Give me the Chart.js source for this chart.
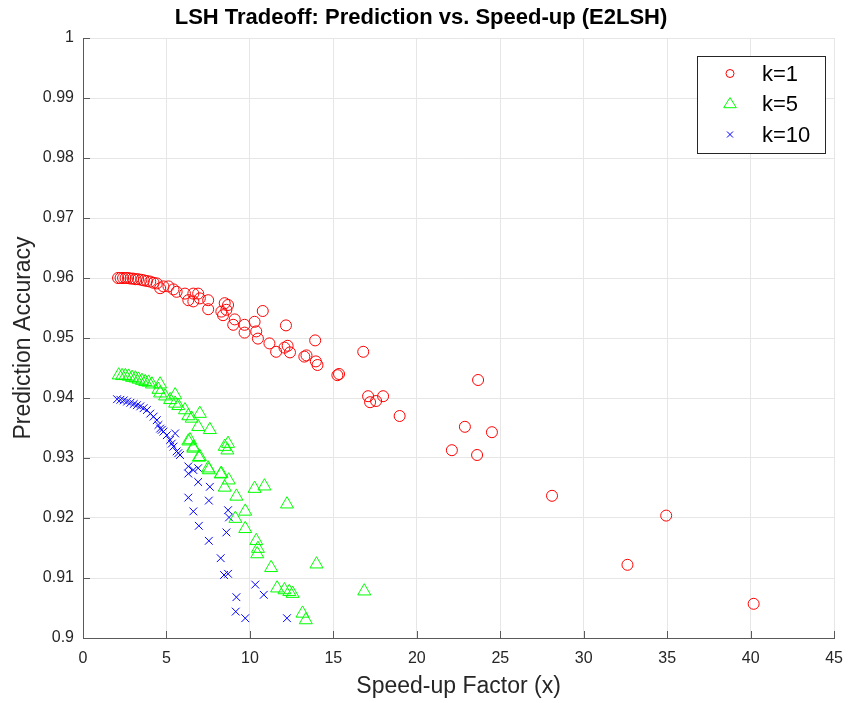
<!DOCTYPE html>
<html>
<head>
<meta charset="utf-8">
<script src="https://cdn.jsdelivr.net/npm/chart.js@4/dist/chart.umd.min.js"></script>
<style>
html,body{margin:0;padding:0;background:#fff;}
#wrap{width:854px;height:703px;}
</style>
</head>
<body>
<div id="wrap"><canvas id="c" width="854" height="703"></canvas></div>
<script>
const chartTitle = "LSH Tradeoff: Prediction vs. Speed-up (E2LSH)";
const xAxisTitle = "Speed-up Factor (x)";
const yAxisTitle = "Prediction Accuracy";
const seriesNames = ["k=1", "k=5", "k=10"];
const xTickLabels = ["0","5","10","15","20","25","30","35","40","45"];
const yTickLabels = ["0.9","0.91","0.92","0.93","0.94","0.95","0.96","0.97","0.98","0.99","1"];

// k=1 (x: speed-up, y: accuracy)
const k1X = [2.1,2.25,2.4,2.55,2.7,2.85,3.0,3.15,3.3,3.5,3.65,3.83,4.03,4.23,4.42,4.62,4.82,5.12,5.42,5.61,6.11,6.31,6.61,6.61,6.9,7.0,7.5,7.5,8.29,8.39,8.49,8.59,8.69,9.0,9.09,9.68,9.68,10.28,10.38,10.48,10.77,11.17,11.57,12.07,12.16,12.26,12.4,13.26,13.39,13.91,13.95,14.05,15.24,15.34,16.79,17.08,17.2,17.56,17.98,18.97,22.1,22.88,23.61,23.67,24.5,28.1,32.62,34.94,40.18];
const k1Y = [0.9600,0.9600,0.9600,0.9600,0.9600,0.9599,0.9599,0.9598,0.9598,0.9597,0.9596,0.9595,0.9594,0.9592,0.9591,0.9583,0.9586,0.9586,0.9581,0.9577,0.9574,0.9563,0.9561,0.9574,0.9574,0.9566,0.9563,0.9548,0.9544,0.9538,0.9558,0.9547,0.9555,0.9522,0.9531,0.9522,0.9509,0.9527,0.9511,0.9499,0.9545,0.9491,0.9477,0.9484,0.9521,0.9487,0.9476,0.9469,0.9471,0.9496,0.9461,0.9455,0.9438,0.9440,0.9477,0.9403,0.9393,0.9395,0.9403,0.9370,0.9313,0.9352,0.9305,0.9430,0.9343,0.9237,0.9122,0.9204,0.9057];

// k=5
const k5X = [2.14,2.34,2.54,2.74,2.94,3.14,3.33,3.53,3.73,3.93,4.13,4.52,4.62,4.62,4.92,5.22,5.52,5.52,5.71,6.11,6.31,6.31,6.41,6.51,6.61,6.61,6.9,6.94,7.0,7.0,7.5,7.54,7.6,8.25,8.29,8.49,8.49,8.65,8.69,8.73,9.13,9.19,9.72,9.72,10.28,10.38,10.44,10.48,10.87,11.27,11.63,12.07,12.22,12.36,12.56,13.15,13.35,13.99,16.85];
const k5Y = [0.9438,0.9437,0.9437,0.9436,0.9434,0.9433,0.9431,0.9429,0.9427,0.9426,0.9423,0.9414,0.9423,0.9408,0.9403,0.9397,0.9405,0.9391,0.9387,0.9380,0.9370,0.9328,0.9330,0.9366,0.9318,0.9316,0.9352,0.9301,0.9374,0.9302,0.9283,0.9280,0.9347,0.9273,0.9274,0.9319,0.9251,0.9313,0.9324,0.9263,0.9199,0.9236,0.9211,0.9182,0.9249,0.9162,0.9140,0.9149,0.9253,0.9117,0.9083,0.9080,0.9223,0.9077,0.9074,0.9041,0.9030,0.9123,0.9078];

// k=10
const k10X = [2.04,2.24,2.44,2.64,2.84,3.04,3.23,3.43,3.63,3.83,4.03,4.23,4.42,4.52,4.62,4.72,4.82,5.02,5.22,5.32,5.42,5.52,5.61,5.71,5.81,6.31,6.31,6.31,6.61,6.61,6.9,6.9,6.94,7.54,7.54,7.6,8.25,8.45,8.59,8.69,8.69,8.75,9.15,9.19,9.72,10.32,10.83,12.22];
const k10Y = [0.9398,0.9397,0.9396,0.9394,0.9392,0.9390,0.9388,0.9386,0.9383,0.9380,0.9374,0.9369,0.9363,0.9355,0.9349,0.9347,0.9344,0.9338,0.9330,0.9324,0.9319,0.9341,0.9311,0.9308,0.9305,0.9286,0.9274,0.9234,0.9280,0.9211,0.9283,0.9260,0.9187,0.9229,0.9162,0.9252,0.9133,0.9105,0.9176,0.9213,0.9107,0.9201,0.9044,0.9068,0.9033,0.9089,0.9072,0.9033];

const colors = ["#ff0000", "#00ff00", "#0000ff"];
const styles = ["circle", "triangle", "crossRot"];
const radii = [5.5, 7.5, 5.5];

function pts(xs, ys){ return xs.map((x,i)=>({x:x, y:ys[i]})); }
const seriesData = [pts(k1X,k1Y), pts(k5X,k5Y), pts(k10X,k10Y)];

const FONT = "'Liberation Sans', Arial, Helvetica, sans-serif";
const AXIS_COLOR = "#5a5a5a";
const TEXT_COLOR = "#262626";

const innerTicks = {
  id: 'innerTicks',
  afterDatasetsDraw(chart){
    const ctx = chart.ctx, a = chart.chartArea;
    const xs = chart.scales.x, ys = chart.scales.y;
    ctx.save();
    ctx.strokeStyle = AXIS_COLOR;
    ctx.lineWidth = 1;
    ctx.beginPath();
    xs.ticks.forEach(t=>{
      const px = Math.round(xs.getPixelForValue(t.value)) + 0.5;
      ctx.moveTo(px, a.bottom); ctx.lineTo(px, a.bottom - 7);
    });
    ys.ticks.forEach(t=>{
      const py = Math.round(ys.getPixelForValue(t.value)) + 0.5;
      ctx.moveTo(a.left, py); ctx.lineTo(a.left + 7, py);
    });
    ctx.stroke();
    ctx.restore();
  }
};

const boxLegend = {
  id: 'boxLegend',
  afterDraw(chart){
    const ctx = chart.ctx;
    const L = 697, T = 56, W = 128, H = 97;
    ctx.save();
    ctx.fillStyle = "#ffffff";
    ctx.fillRect(L, T, W, H);
    ctx.strokeStyle = "#262626";
    ctx.lineWidth = 1;
    ctx.strokeRect(L + 0.5, T + 0.5, W, H);
    const rows = [73.5, 103.5, 134.5];
    const mr = [4, 7, 4];
    seriesNames.forEach((name, i)=>{
      ctx.strokeStyle = colors[i];
      ctx.lineWidth = 1;
      ctx.beginPath();
      const r = mr[i], x = 730, y = rows[i];
      if (styles[i] === 'circle') { ctx.arc(x, y, r, 0, Math.PI*2); }
      else if (styles[i] === 'triangle') {
        ctx.moveTo(x, y - r*0.85); ctx.lineTo(x + r*0.9, y + r*0.6); ctx.lineTo(x - r*0.9, y + r*0.6); ctx.closePath();
      } else {
        ctx.moveTo(x - r*0.75, y - r*0.75); ctx.lineTo(x + r*0.75, y + r*0.75);
        ctx.moveTo(x + r*0.75, y - r*0.75); ctx.lineTo(x - r*0.75, y + r*0.75);
      }
      ctx.stroke();
      ctx.fillStyle = "#000000";
      ctx.font = "22px " + FONT;
      ctx.textAlign = "left";
      ctx.textBaseline = "middle";
      ctx.fillText(name, 762, rows[i] + 1);
    });
    ctx.restore();
  }
};

new Chart(document.getElementById('c'), {
  type: 'scatter',
  data: {
    datasets: seriesData.map((d, i)=>({
      label: seriesNames[i],
      data: d,
      pointStyle: styles[i],
      pointRadius: radii[i],
      pointHoverRadius: radii[i],
      borderColor: colors[i],
      backgroundColor: 'rgba(0,0,0,0)',
      pointBorderWidth: 1,
      showLine: false
    }))
  },
  options: {
    responsive: false,
    animation: false,
    events: [],
    layout: { padding: { left: 0, right: 12, top: 0, bottom: 0 } },
    plugins: {
      legend: { display: false },
      tooltip: { enabled: false },
      title: {
        display: true,
        text: chartTitle,
        color: "#000000",
        font: { family: FONT, size: 22, weight: 'bold' },
        padding: { top: 5, bottom: 6.6 }
      }
    },
    scales: {
      x: {
        type: 'linear',
        min: 0, max: 45,
        afterFit(s){ s.height = 65; },
        border: { display: true, color: AXIS_COLOR, width: 1 },
        grid: { color: "#e6e6e6", lineWidth: 1, drawTicks: false },
        ticks: {
          stepSize: 5,
          padding: 11,
          color: TEXT_COLOR,
          font: { family: FONT, size: 16 },
          callback: (v, i) => xTickLabels[i]
        },
        title: {
          display: true,
          text: xAxisTitle,
          color: TEXT_COLOR,
          font: { family: FONT, size: 23 },
          padding: { top: 0, bottom: 3 }
        }
      },
      y: {
        type: 'linear',
        min: 0.9, max: 1,
        afterFit(s){ s.width = 83; },
        border: { display: true, color: AXIS_COLOR, width: 1 },
        grid: { color: "#e6e6e6", lineWidth: 1, drawTicks: false },
        ticks: {
          stepSize: 0.01,
          padding: 9,
          color: TEXT_COLOR,
          font: { family: FONT, size: 16 },
          callback: (v, i) => yTickLabels[i]
        },
        title: {
          display: true,
          text: yAxisTitle,
          color: TEXT_COLOR,
          font: { family: FONT, size: 23 },
          padding: { top: 10, bottom: 0 }
        }
      }
    }
  },
  plugins: [innerTicks, boxLegend]
});
</script>
</body>
</html>
